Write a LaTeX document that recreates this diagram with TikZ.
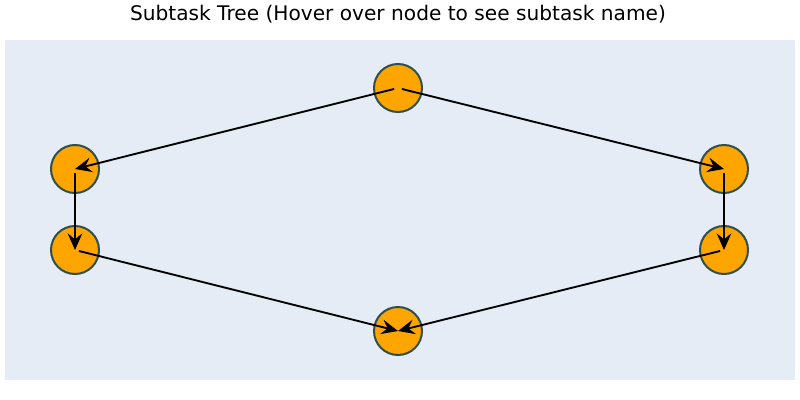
\documentclass[tikz,border=0pt]{standalone}
\usepackage{fontspec}
\setmainfont{DejaVu Sans}
\usetikzlibrary{arrows.meta}
\definecolor{plotbg}{HTML}{E5ECF6}
\definecolor{taskfill}{HTML}{FFA500}
\definecolor{taskline}{HTML}{2F4F4F}
\tikzset{task/.style={
        circle, fill=taskfill, draw=taskline, line width=1.5pt,
        minimum size=36pt, inner sep=0pt
    },
    link/.style={
        line width=1.4pt, shorten <=3pt,
        -{Stealth[length=12.5pt, width=11pt, inset=4.5pt]}
    }
}

\begin{document}
\begin{tikzpicture}[x=0.75pt, y=-0.75pt]
    % Init
    \useasboundingbox (0, 0) rectangle (800, 400);
    \fill[plotbg] (5, 40) rectangle (795, 380);
    \node (title) at (398, 14) {\fontsize{15.1pt}{18pt}\selectfont Subtask Tree (Hover over node to see subtask name)};
    % 1. def nodes
    \node[task] (root)  at (398, 88) {};
    \node[task] (left)  at (75, 169) {};
    \node[task] (right) at (724, 169) {};
    \node[task] (leftb)  at (75, 250) {};
    \node[task] (rightb) at (724, 250) {};
    \node[task] (sink)  at (398, 331) {};
    % 2. def links
    \draw[link] (root.center) -- (left.center);
    \draw[link] (root.center) -- (right.center);
    \draw[link] (left.center) -- (leftb.center);
    \draw[link] (right.center) -- (rightb.center);
    \draw[link] (leftb.center) -- (sink.center);
    \draw[link] (rightb.center) -- (sink.center);
\end{tikzpicture}
\end{document}
